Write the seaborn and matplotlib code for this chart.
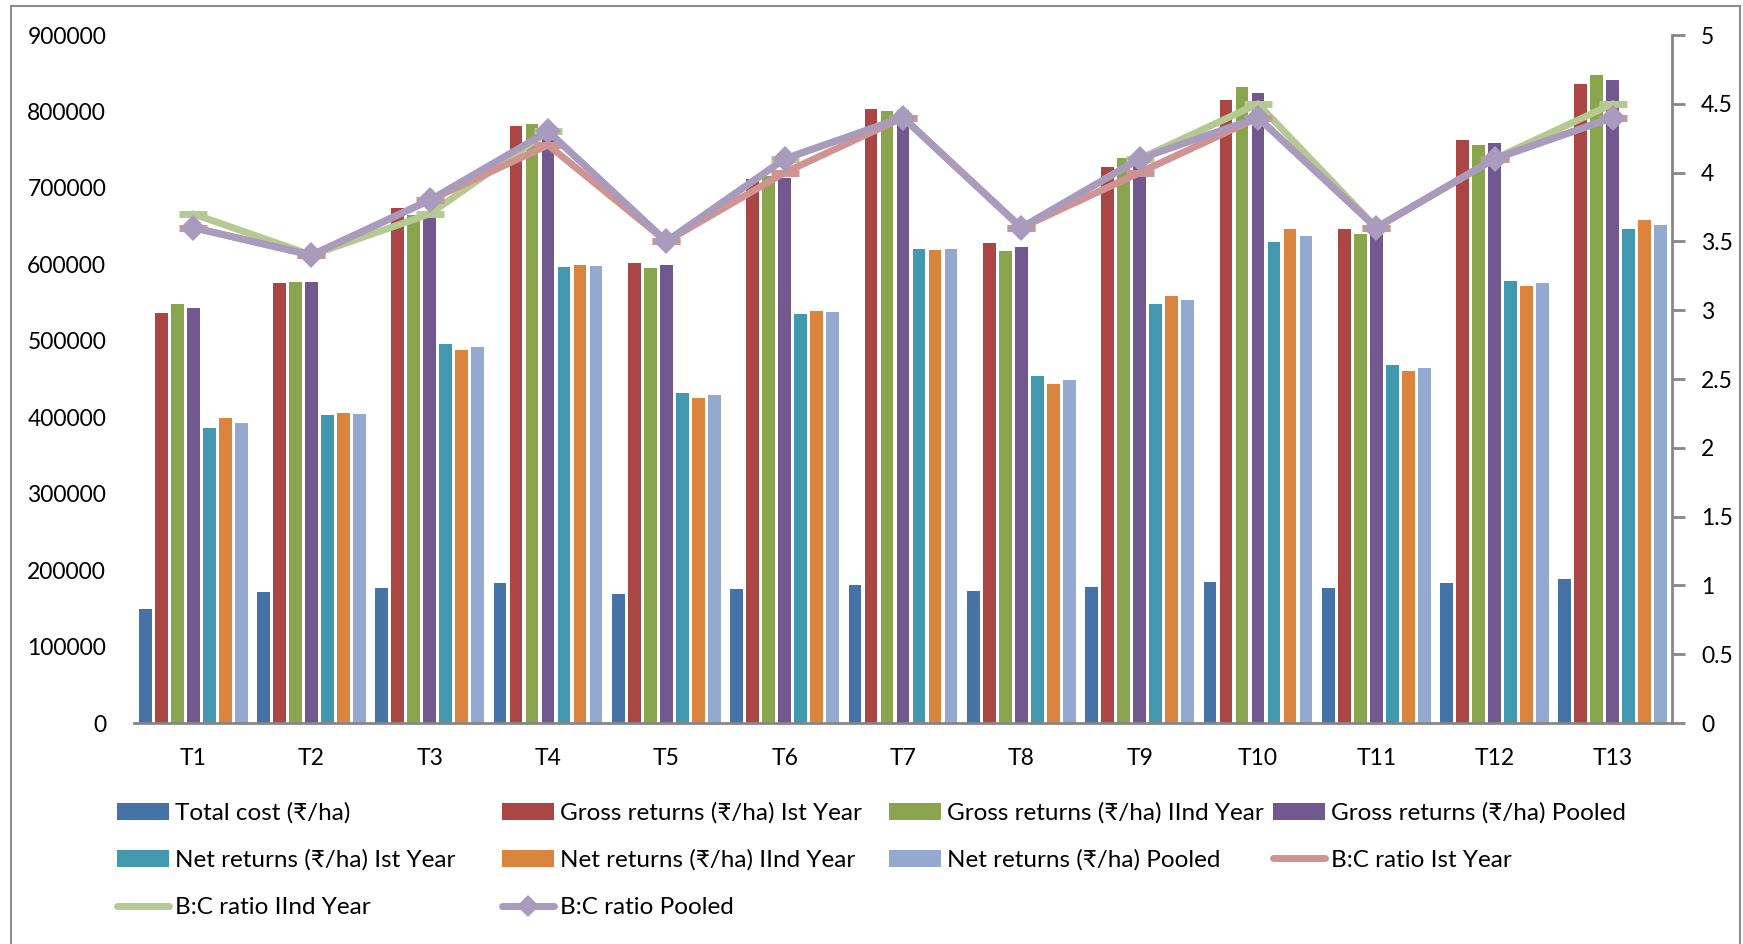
import numpy as np
import pandas as pd
import matplotlib
matplotlib.use("Agg")
import matplotlib.pyplot as plt
from matplotlib.patches import Patch, Rectangle
from matplotlib.lines import Line2D
import seaborn as sns

# ---------------- data ----------------
cats = ["T1", "T2", "T3", "T4", "T5", "T6", "T7", "T8", "T9", "T10", "T11", "T12", "T13"]
total_cost = [149000, 171000, 176600, 183100, 168800, 174900, 181000, 172700, 178300, 184500, 176600, 182700, 188800]
gross_1 = [536800, 575600, 673700, 781000, 602200, 711700, 802800, 627500, 727800, 815400, 646300, 762300, 836400]
gross_2 = [548500, 577300, 664600, 783600, 595700, 715600, 800600, 617900, 738700, 832000, 639300, 756400, 847700]
gross_p = [542500, 576500, 669800, 778000, 598800, 713400, 802000, 622300, 733000, 824200, 643000, 759200, 841600]
net_1 = [386300, 403000, 495800, 597000, 432100, 535100, 620100, 453500, 547700, 629300, 468300, 578200, 645900]
net_2 = [398600, 405100, 487500, 599200, 425200, 539000, 618400, 443900, 558600, 645900, 460900, 572100, 657600]
net_p = [392500, 404200, 491400, 598300, 428700, 537300, 619700, 448300, 553400, 637500, 464400, 575200, 651500]
bc_1 = [3.6, 3.4, 3.8, 4.2, 3.5, 4.0, 4.4, 3.6, 4.0, 4.4, 3.6, 4.1, 4.4]
bc_2 = [3.7, 3.4, 3.7, 4.3, 3.5, 4.1, 4.4, 3.6, 4.1, 4.5, 3.6, 4.1, 4.5]
bc_p = [3.6, 3.4, 3.8, 4.3, 3.5, 4.1, 4.4, 3.6, 4.1, 4.4, 3.6, 4.1, 4.4]

bar_names = ["Total cost (₹/ha)", "Gross returns (₹/ha) Ist Year", "Gross returns (₹/ha) IInd Year",
             "Gross returns (₹/ha) Pooled", "Net returns (₹/ha) Ist Year", "Net returns (₹/ha) IInd Year",
             "Net returns (₹/ha) Pooled"]
bar_values = [total_cost, gross_1, gross_2, gross_p, net_1, net_2, net_p]
bar_colors = ["#4572A7", "#AA4643", "#89A54E", "#71588F", "#4198AF", "#DB843D", "#93A9CF"]

line_names = ["B:C ratio Ist Year", "B:C ratio IInd Year", "B:C ratio Pooled"]
line_colors = ["#D09392", "#B5CA92", "#A99BBD"]

# ---------------- style ----------------
sns.set_theme(style="white")
plt.rcParams["font.family"] = ["Lato", "DejaVu Sans"]
plt.rcParams["text.color"] = "black"
plt.rcParams["xtick.color"] = "black"
plt.rcParams["ytick.color"] = "black"
FS = 16.5
LFS = 17.5

W, H = 1743, 944
fig = plt.figure(figsize=(W / 100, H / 100), dpi=100)
ax = fig.add_axes([134 / W, 1 - 723 / H, (1672 - 134) / W, (723 - 35) / H])

df = pd.DataFrame({
    "cat": np.repeat([cats], len(bar_names), axis=0).ravel(),
    "series": np.repeat(bar_names, len(cats)),
    "value": np.concatenate(bar_values),
})
sns.barplot(data=df, x="cat", y="value", hue="series", hue_order=bar_names,
            palette=bar_colors, order=cats, width=0.947, gap=0.2, ax=ax,
            legend=False, saturation=1, edgecolor="none")
ax.set_ylim(0, 900000)
ax.set_yticks(np.arange(0, 900001, 100000))
ax.set_yticklabels([f"{int(v)}" for v in np.arange(0, 900001, 100000)], fontsize=FS)
ax.set_xlabel("")
ax.set_ylabel("")
ax.tick_params(axis="y", length=0, pad=20)
ax.tick_params(axis="x", length=0, pad=18, labelsize=FS)
for s in ["left", "top", "right"]:
    ax.spines[s].set_visible(False)
ax.spines["bottom"].set_color("#868686")
ax.spines["bottom"].set_linewidth(2)

# ---------------- lines on secondary axis ----------------
ax2 = ax.twinx()
sns.pointplot(x=cats, y=bc_2, ax=ax2, color=line_colors[1], markers="_", linestyles="-",
              errorbar=None, linewidth=5, markersize=20, markeredgewidth=5)
sns.pointplot(x=cats, y=bc_1, ax=ax2, color=line_colors[0], markers="_", linestyles="-",
              errorbar=None, linewidth=5, markersize=20, markeredgewidth=5)
sns.pointplot(x=cats, y=bc_p, ax=ax2, color=line_colors[2], markers="D", linestyles="-",
              errorbar=None, linewidth=5, markersize=13, markeredgewidth=0)
ax2.set_ylim(0, 5)
ax2.set_yticks(np.arange(0, 5.01, 0.5))
ax2.set_yticklabels(["0", "0.5", "1", "1.5", "2", "2.5", "3", "3.5", "4", "4.5", "5"], fontsize=FS)
ax2.set_ylabel("")
ax2.set_xlabel("")
ax2.set_xlim(ax.get_xlim())
ax2.tick_params(axis="y", direction="out", length=9, width=2, color="#868686", pad=12, right=True)
for s in ["left", "top", "bottom"]:
    ax2.spines[s].set_visible(False)
ax2.spines["right"].set_color("#868686")
ax2.spines["right"].set_linewidth(2)
ax2.grid(False)
ax.grid(False)

# ---------------- legend (4 columns, row-major order) ----------------
handles = [Patch(facecolor=c, edgecolor="none") for c in bar_colors]
handles += [Line2D([], [], color=line_colors[0], lw=5),
            Line2D([], [], color=line_colors[1], lw=5),
            Line2D([], [], color=line_colors[2], lw=5, marker="D", markersize=11, markeredgewidth=0)]
labels = bar_names + line_names

col_x = [117, 502, 889, 1273]
for c in range(4):
    idx = list(range(c, len(labels), 4))
    fig.legend([handles[i] for i in idx], [labels[i] for i in idx],
               loc="upper left", bbox_to_anchor=(col_x[c] / W, 1 - 802 / H),
               frameon=False, fontsize=LFS, borderpad=0, borderaxespad=0,
               handlelength=2.15, handleheight=0.7, handletextpad=0.22,
               labelspacing=1.07)

# outer border
fig.add_artist(Rectangle((11 / W, -0.05), (1740 - 11) / W, 1.05 - 6 / H,
                         transform=fig.transFigure, fill=False,
                         edgecolor="#8c8c8c", lw=1.5))

fig.savefig("out.png", dpi=100)
